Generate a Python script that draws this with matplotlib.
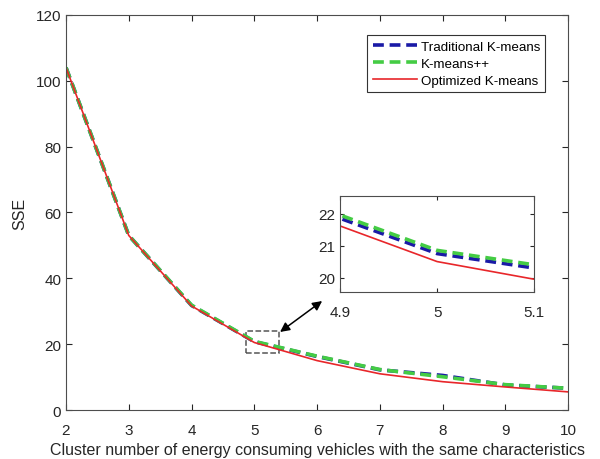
import matplotlib
matplotlib.use("Agg")
import matplotlib.pyplot as plt
from matplotlib.patches import Rectangle

plt.rcParams['font.family'] = ['Liberation Sans', 'DejaVu Sans']

k = [2, 3, 4, 5, 6, 7, 8, 9, 10]
sse_traditional = [104, 53, 31.75, 20.75, 16.25, 12.2, 10.5, 7.6, 6.6]
sse_kmeanspp = [104, 53, 31.85, 20.85, 16.35, 12.3, 10.1, 7.7, 6.6]
sse_optimized = [104, 53, 31.6, 20.5, 15.0, 11.0, 8.6, 7.0, 5.5]

labels = ['Traditional K-means', 'K-means++', 'Optimized K-means']
xlabel = 'Cluster number of energy consuming vehicles with the same characteristics'

txt = '#262626'
spine = '#4d4d4d'
blue = '#1a1aa6'
green = '#44cc44'
red = '#e8262a'

fig = plt.figure(figsize=(6, 4.6), dpi=100)
ax = fig.add_axes([0.11, 0.1065, 0.837, 0.859])

ax.plot(k, sse_traditional, '--', color=blue, lw=2.6, dashes=(3, 1.6), label=labels[0])
ax.plot(k, sse_kmeanspp, '--', color=green, lw=2.6, dashes=(3, 1.6), label=labels[1])
ax.plot(k, sse_optimized, '-', color=red, lw=1.2, label=labels[2])

ax.set_xlim(2, 10)
ax.set_ylim(0, 120)
ax.set_xticks(k)
ax.set_yticks(range(0, 121, 20))
ax.set_ylabel('SSE', fontsize=11.5, color=txt, labelpad=6)
ax.set_xlabel(xlabel, fontsize=11.5, color=txt, labelpad=4)
ax.tick_params(direction='in', top=True, right=True, labelsize=11, colors=txt, length=4)
ax.tick_params(axis='x', pad=9)
for s in ax.spines.values():
    s.set_color(spine)
    s.set_linewidth(0.8)

leg = ax.legend(loc='upper right', bbox_to_anchor=(0.968, 0.965), fontsize=9.6,
                fancybox=False, framealpha=1, edgecolor='#333333', handlelength=3.3,
                handletextpad=0.3, borderpad=0.4, labelspacing=0.35)
leg.get_frame().set_linewidth(0.8)

# zoom box on the main axes
ax.add_patch(Rectangle((4.87, 17.3), 0.52, 6.7, fill=False, ls='--', ec='#555555', lw=1.1))
ax.annotate('', xy=(6.08, 33.1), xytext=(5.41, 23.7),
            arrowprops=dict(arrowstyle='<|-|>', color='black', lw=1.1,
                            mutation_scale=14, shrinkA=0, shrinkB=0))

# inset
ins = fig.add_axes([0.567, 0.363, 0.323, 0.209])
ins.plot(k, sse_traditional, '--', color=blue, lw=2.6, dashes=(3, 1.6))
ins.plot(k, sse_kmeanspp, '--', color=green, lw=2.6, dashes=(3, 1.6))
ins.plot(k, sse_optimized, '-', color=red, lw=1.2)
ins.set_xlim(4.9, 5.1)
ins.set_ylim(19.55, 22.55)
ins.set_xticks([4.9, 5, 5.1])
ins.set_xticklabels(['4.9', '5', '5.1'])
ins.set_yticks([20, 21, 22])
ins.tick_params(direction='in', top=True, right=True, labelsize=11, colors=txt, length=3)
ins.tick_params(axis='x', pad=9)
for s in ins.spines.values():
    s.set_color(spine)
    s.set_linewidth(0.8)

fig.savefig('out.png', dpi=100)
